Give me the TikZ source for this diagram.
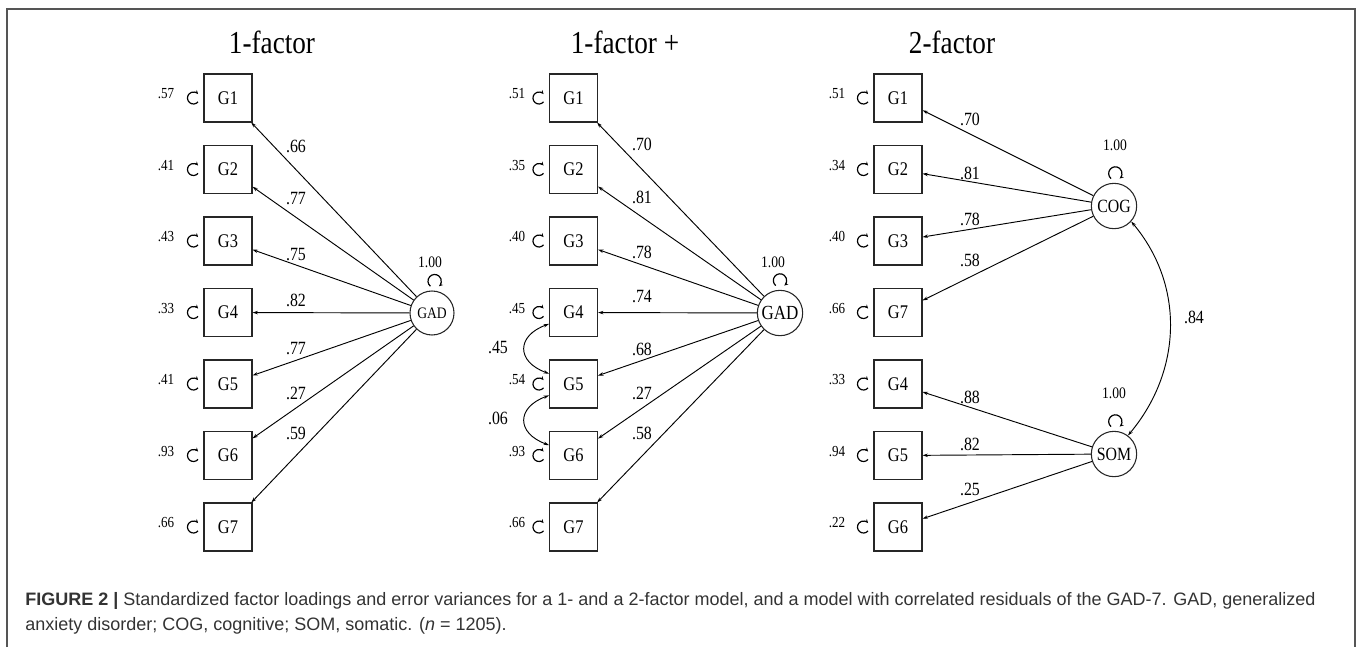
\documentclass[tikz,border=0pt]{standalone}
\usepackage{fontspec}
\setmainfont{Liberation Serif}[FakeStretch=0.85]
\newfontfamily\capfont{Liberation Sans}
\usetikzlibrary{positioning,arrows.meta,calc}
\definecolor{framegray}{RGB}{85,85,85}
\definecolor{captext}{RGB}{51,51,51}

\tikzset{
  ind/.style={rectangle, draw=black!85, line width=0.8pt, minimum width=36pt, minimum height=36pt, inner sep=0pt, font=\fontsize{14.5}{14.5}\selectfont},
  lat/.style={circle, draw=black!85, line width=0.8pt, minimum size=34pt, inner sep=0pt, font=\fontsize{14}{14}\selectfont},
  load/.style={-{Stealth[length=4pt,width=2.6pt]}, line width=0.7pt},
  corr/.style={{Stealth[length=4pt,width=2.6pt]}-{Stealth[length=4pt,width=2.6pt]}, line width=0.7pt},
  errloop/.style={-{Stealth[length=3pt,width=2.6pt]}, line width=0.9pt},
  coef/.style={inner sep=0pt, font=\fontsize{14}{14}\selectfont},
  evar/.style={inner sep=0pt, font=\fontsize{11.5}{11.5}\selectfont},
  fvar/.style={inner sep=0pt, font=\fontsize{12}{12}\selectfont},
  title/.style={inner sep=0pt, font=\fontsize{24}{24}\selectfont},
}

\begin{document}
\begin{tikzpicture}[x=0.75pt, y=-0.75pt]
  \useasboundingbox (0,0) rectangle (1357,647);
  \draw[framegray, line width=1.5pt] (7,647) -- (7,9) -- (1355,9) -- (1355,647);

  % panel titles
  \node[title] (t1) at (272,42) {1-factor};
  \node[title] (t2) at (625,42) {1-factor +};
  \node[title] (t3) at (952,42) {2-factor};

  % 1-factor
  \node[lat, minimum size=33pt, font=\fontsize{12}{12}\selectfont] (gad1) at (432,313) {GAD};
  \draw[errloop] ([xshift=2pt,yshift=7pt]gad1.north) ++(230:5pt) arc[start angle=230, end angle=-50, radius=5pt];
  \node[fvar] (gad1v) at (430,262) {1.00};
  \foreach \i/\y/\v/\c/\cy in {1/98/.57/.66/146, 2/169.5/.41/.77/199, 3/241/.43/.75/255, 4/312.5/.33/.82/300,
                               5/384/.41/.77/349, 6/455.5/.93/.27/393, 7/527/.66/.59/433}{
    \node[ind] (a\i) at (228,\y) {G\i};
    \node[evar] (ae\i) at (166,\y-4) {\v};
    \draw[errloop] ([xshift=-7.5pt]a\i.west) ++(-40:4.5pt) arc[start angle=-40, end angle=-320, radius=4.5pt];
    \draw[load] (gad1) -- (a\i);
    \node[coef] (ac\i) at (296,\cy) {\c};
  }

  % 1-factor + correlated residuals
  \node[lat, font=\fontsize{15}{15}\selectfont] (gad2) at (780,313) {GAD};
  \draw[errloop] ([yshift=7pt]gad2.north) ++(230:5pt) arc[start angle=230, end angle=-50, radius=5pt];
  \node[fvar] (gad2v) at (773,262) {1.00};
  \foreach \i/\y/\v/\c/\cy in {1/98/.51/.70/144, 2/169.5/.35/.81/197, 3/241/.40/.78/252, 4/312.5/.45/.74/296,
                               5/384/.54/.68/349, 6/455.5/.93/.27/393, 7/527/.66/.58/433}{
    \node[ind] (b\i) at (573.5,\y) {G\i};
    \node[evar] (be\i) at (517,\y-4) {\v};
    \draw[errloop] ([xshift=-7.5pt]b\i.west) ++(-40:4.5pt) arc[start angle=-40, end angle=-320, radius=4.5pt];
    \draw[load] (gad2) -- (b\i);
    \node[coef] (bc\i) at (642,\cy) {\c};
  }
  \draw[corr] (b4.205) to[out=200, in=160, looseness=1.8] (b5.157);
  \draw[corr] (b5.205) to[out=200, in=160, looseness=1.8] (b6.157);
  \node[coef] (r45) at (498,347) {.45};
  \node[coef] (r56) at (498,418) {.06};

  % 2-factor
  \node[lat] (cog) at (1114,206) {COG};
  \node[lat] (som) at (1114,454) {SOM};
  \draw[errloop] ([xshift=1pt,yshift=7pt]cog.north) ++(230:5pt) arc[start angle=230, end angle=-50, radius=5pt];
  \draw[errloop] ([xshift=1pt,yshift=7pt]som.north) ++(230:5pt) arc[start angle=230, end angle=-50, radius=5pt];
  \node[fvar] (cogv) at (1115,145) {1.00};
  \node[fvar] (somv) at (1114,393) {1.00};
  \foreach \i/\g/\y/\v/\c/\cy/\f in {1/1/98/.51/.70/119/cog, 2/2/169.5/.34/.81/173/cog, 3/3/241/.40/.78/219/cog,
                                     4/7/312.5/.66/.58/260/cog, 5/4/384/.33/.88/397/som, 6/5/455.5/.94/.82/444/som,
                                     7/6/527/.22/.25/489/som}{
    \node[ind] (c\i) at (898,\y) {G\g};
    \node[evar] (ce\i) at (837,\y-4) {\v};
    \draw[errloop] ([xshift=-7.5pt]c\i.west) ++(-40:4.5pt) arc[start angle=-40, end angle=-320, radius=4.5pt];
    \draw[load] (\f) -- (c\i);
    \node[coef] (cc\i) at (970,\cy) {\c};
  }
  \draw[corr] (cog.-42) to[out=-50, in=50] (som.53);
  \node[coef] (rcs) at (1194,317) {.84};

  % caption
  \node[anchor=north west, inner sep=0pt, align=left, text=captext,
        font=\capfont\fontsize{13.5}{18.75}\selectfont] (cap) at (25,592)
    {\textbf{FIGURE 2 |} Standardized factor loadings and error variances for a 1- and a 2-factor model, and a model with correlated residuals of the GAD-7. GAD, generalized\\
     anxiety disorder; COG, cognitive; SOM, somatic. (\textit{n} = 1205).};
\end{tikzpicture}
\end{document}
